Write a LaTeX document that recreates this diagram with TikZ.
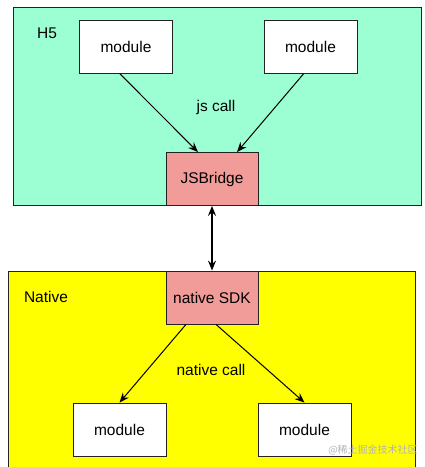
\documentclass[tikz,border=0pt]{standalone}
\usepackage{fontspec}
\setmainfont{Liberation Sans}
\newfontfamily\cjkfont{Noto Sans CJK SC}
\usepackage{tikz}
\usepackage{xcolor}
\usetikzlibrary{arrows.meta,positioning}
\definecolor{mintbg}{HTML}{9CFFD4}
\definecolor{yellowbg}{HTML}{FFFF00}
\definecolor{bridgebg}{HTML}{F19C99}
\definecolor{edge}{HTML}{222222}
\definecolor{wmgray}{HTML}{B4B4B4}
\tikzset{
  layer/.style={draw=edge,line width=1pt,inner sep=0pt},
  modbox/.style={draw=edge,fill=white,line width=0.8pt,minimum width=93pt,
                 minimum height=53pt,inner sep=0pt,font=\fontsize{15.5}{18}\selectfont},
  bridgebox/.style={draw=edge,fill=bridgebg,line width=0.8pt,minimum width=92pt,
                    minimum height=53pt,inner sep=0pt,font=\fontsize{15.5}{18}\selectfont},
  tag/.style={inner sep=0pt,font=\fontsize{15.5}{18}\selectfont},
  callarr/.style={-{Stealth[length=10pt,width=8pt,inset=3.5pt]},line width=1pt,draw=black},
  linkarr/.style={{Stealth[length=10pt,width=8pt,inset=3.5pt]}-{Stealth[length=10pt,width=8pt,inset=3.5pt]},
                  line width=1.5pt,draw=black}
}

\begin{document}
\begin{tikzpicture}[x=1pt,y=1pt]
    \path[use as bounding box] (0,0) rectangle (425,-467);
    \clip (0,0) rectangle (425,-467);

    % web side
    \node[layer,fill=mintbg,minimum width=408pt,minimum height=198pt] (h5) at (217,-106) {};
    \node[tag] (h5name) at (47,-33) {H5};
    \node[modbox] (jsmodA) at (126,-47) {module};
    \node[modbox] (jsmodB) at (310.5,-47) {module};
    \node[bridgebox] (jsb) at (212,-179) {JSBridge};
    \node[tag] (jscall) at (216,-107) {js call};

    % native side
    \node[layer,fill=yellowbg,minimum width=407pt,minimum height=220pt] (native) at (211.5,-381) {};
    \node[tag] (nativename) at (46,-297) {Native};
    \node[bridgebox] (sdk) at (212,-297.5) {native SDK};
    \node[tag] (nativecall) at (211,-370) {native call};
    \node[modbox] (natmodA) at (119.5,-429.5) {module};
    \node[modbox] (natmodB) at (304.5,-429.5) {module};

    \node[inner sep=0pt,text=wmgray,font=\cjkfont\fontsize{10}{12}\selectfont] (wm) at (373,-450) {@稀土掘金技术社区};

    \draw[callarr] ([xshift=-6pt]jsmodA.south) -- ([xshift=-14pt]jsb.north);
    \draw[callarr] ([xshift=-7pt]jsmodB.south) -- ([xshift=25pt]jsb.north);
    \draw[linkarr] (jsb.south) -- (sdk.north);
    \draw[callarr] ([xshift=-26pt]sdk.south) -- (natmodA.north);
    \draw[callarr] ([xshift=4pt]sdk.south) -- (natmodB.north);
  \end{tikzpicture}
\end{document}
